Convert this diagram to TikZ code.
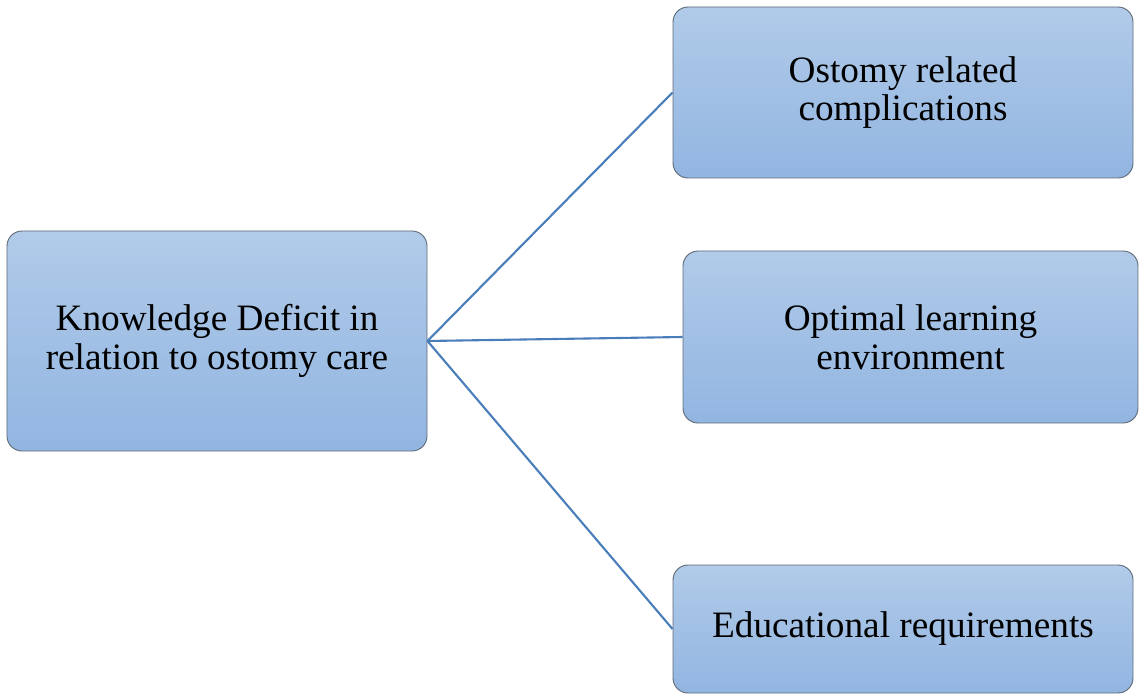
\documentclass[tikz,border=0pt]{standalone}
\usepackage{fontspec}
\setmainfont{Liberation Serif}
\usepackage{xcolor}
\usetikzlibrary{positioning}
\definecolor{boxtop}{HTML}{B1CBE9}
\definecolor{boxbot}{HTML}{92B5E1}
\definecolor{boxline}{HTML}{5F6B78}
\definecolor{linkblue}{HTML}{4A7EBB}

\begin{document}
\begin{tikzpicture}[
  topic/.style={draw=boxline, line width=0.8pt, rounded corners=0.45cm, top color=boxtop, bottom color=boxbot, align=center, font=\fontsize{31.8}{33}\selectfont},
  link/.style={draw=linkblue, line width=1.8pt}]
\useasboundingbox (0,0) rectangle (34.17,-20.82);
% Central problem and its three branches
\node[topic, minimum width=12.6cm, minimum height=6.6cm] (deficit) at (6.51,-10.23) {Knowledge Deficit in\\relation to ostomy care};

\node[topic, minimum width=13.8cm, minimum height=5.13cm] (complications) at (27.09,-2.775) {Ostomy related\\complications};

\node[topic, minimum width=13.65cm, minimum height=5.16cm] (environment) at (27.315,-10.11) {Optimal learning\\environment};

\node[topic, minimum width=13.8cm, minimum height=3.84cm] (requirements) at (27.09,-18.87) {Educational requirements};

% Links
\draw[link] (deficit.east) -- (complications.west);
\draw[link] (deficit.east) -- (environment.west);
\draw[link] (deficit.east) -- (requirements.west);
\end{tikzpicture}
\end{document}
